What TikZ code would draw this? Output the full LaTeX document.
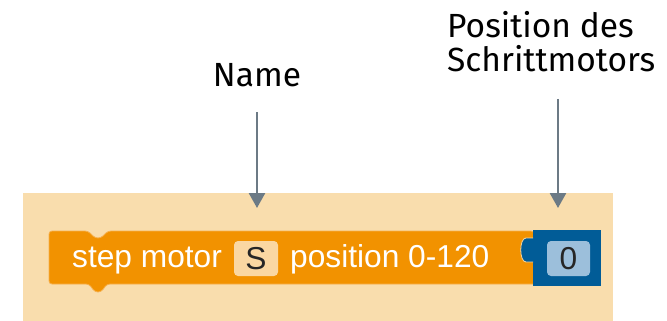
\documentclass[tikz,border=0pt]{standalone}
\usepackage{fontspec}
\setmainfont{Liberation Sans}
\newfontfamily\labelfont{Fira Sans}
\usetikzlibrary{arrows.meta}
\definecolor{bgcol}{HTML}{F9DDAD}
\definecolor{blockor}{HTML}{F29200}
\definecolor{blockedge}{HTML}{F6B04E}
\definecolor{fieldor}{HTML}{FAD7A2}
\definecolor{blockbl}{HTML}{015C97}
\definecolor{fieldbl}{HTML}{9CBFDB}
\definecolor{arrcol}{HTML}{6C7A85}
\tikzset{
  lbl/.style={font=\labelfont\fontsize{33.5}{35}\selectfont, inner sep=0pt, text=black},
  blocktxt/.style={font=\fontsize{31.7}{31}\selectfont, text=white, inner sep=0pt},
  fieldbox/.style={rounded corners=4pt, minimum height=35pt, inner sep=0pt, font=\fontsize{31.7}{31}\selectfont, text=black!85},
  arr/.style={draw=arrcol, line width=2.5pt, -{Triangle[width=16pt,length=15pt]}}
}
\begin{document}
\begin{tikzpicture}[x=1pt,y=-1pt]
\useasboundingbox (0,0) rectangle (667,321);
% background
\fill[bgcol] (23,193) rectangle (613,321);
% orange block
\draw[fill=blockor, draw=blockedge, line width=0.8pt, rounded corners=3pt]
  (49,231) -- (88,231) -- (95,238) -- (101,238) -- (108,231) -- (534,231)
  [sharp corners] -- (534,284) [rounded corners=3pt] -- (107,284) -- (101,292) -- (95,292) -- (89,284) -- (49,284) -- cycle;
% blue block with input tab
\fill[blockbl] (533,230) rectangle (601,286);
\draw[fill=blockbl, draw=fieldor, line width=0.8pt]
  (533,238) -- (526,238) .. controls (519,238) and (519,262) .. (526,262) -- (533,262);
\fill[blockbl] (530,239) rectangle (536,261);
% texts and fields
\node[blocktxt, anchor=base west] (stepTxt) at (72,267) {step motor};
\node[fieldbox, fill=fieldor, minimum width=44pt] (sField) at (256,258.5) {S};
\node[blocktxt, anchor=base west] (posTxt) at (290,267) {position 0-120};
\node[fieldbox, fill=fieldbl, minimum width=43pt] (zeroField) at (568.5,258.5) {0};
% labels
\node[lbl, anchor=base] (nameLbl) at (257,87) {Name};
\node[lbl, anchor=base west, align=left] (posLbl) at (447,72) {Position des\\Schrittmotors};
% arrows
\coordinate (nameTip) at (257,208);
\coordinate (posTip) at (558,208);
\draw[arr] (nameLbl.south |- 0,112) -- (nameTip);
\draw[arr] (posTip |- 0,99) -- (posTip);
\end{tikzpicture}
\end{document}
